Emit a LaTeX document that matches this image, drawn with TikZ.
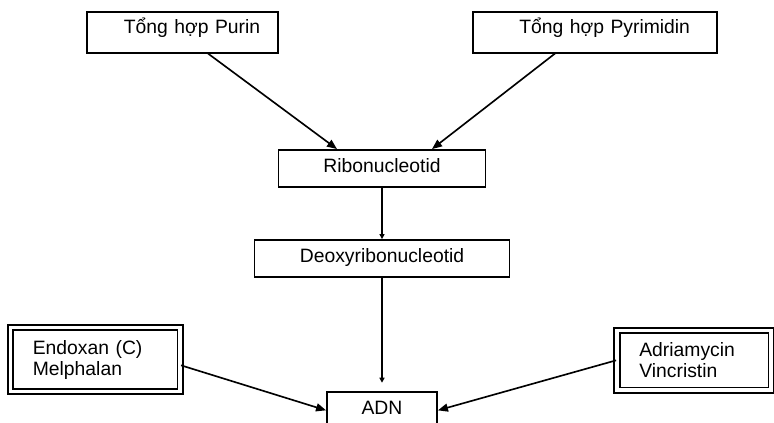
\documentclass[tikz,border=0pt]{standalone}
\usepackage{fontspec}
\setmainfont{Liberation Sans}
\usetikzlibrary{arrows.meta}

\begin{document}
\begin{tikzpicture}[font=\fontsize{16.5}{17.9}\selectfont,
  >={Triangle[length=0.3cm,width=0.24cm]},
  synth/.style={draw,line width=1.6pt,align=right,inner ysep=0pt,text height=0.63cm,text depth=0.585cm},
  nucl/.style={draw,line width=1.6pt,align=center,inner ysep=0pt,text height=0.66cm,text depth=0.44cm},
  drug/.style={draw,double,double distance=3pt,line width=1.5pt,align=left,inner xsep=0.67cm},
  link/.style={->,line width=1.4pt},
  tiny/.style={-{Triangle[length=0.15cm,width=0.15cm]},line width=1.4pt}]
  \useasboundingbox (0,0) rectangle (23.22,-12.66);
  \node[synth,text width=4.65cm,inner xsep=0.54cm] (purin) at (5.48,-0.97) {Tổng hợp Purin};
  \node[synth,text width=5.70cm,inner xsep=0.81cm] (pyrimidin) at (17.85,-0.97) {Tổng hợp Pyrimidin};
  \node[nucl,minimum width=6.21cm] (ribo) at (11.46,-5.05) {Ribonucleotid};
  \node[nucl,minimum width=7.65cm] (deoxy) at (11.46,-7.75) {Deoxyribonucleotid};
  \node[nucl,minimum width=3.3cm] (adn) at (11.46,-12.31) {ADN};
  \node[drug,text width=3.75cm,minimum height=1.92cm] (endoxan) at (2.86,-10.79) {Endoxan (C)\\Melphalan};
  \node[drug,text width=3.28cm,minimum height=1.79cm] (adriamycin) at (20.82,-10.81) {Adriamycin\\Vincristin};
  \draw[link] ([xshift=0.76cm]purin.south) -- ([xshift=-1.35cm]ribo.north);
  \draw[link] ([xshift=-1.2cm]pyrimidin.south) -- ([xshift=1.5cm]ribo.north);
  \draw[tiny] (ribo) -- (deoxy);
  \draw[tiny,shorten >=0.25cm] (deoxy) -- (adn);
  \draw[link] ([yshift=-0.17cm]endoxan.east) -- (adn.west);
  \draw[link] (adriamycin.west) -- (adn.east);
\end{tikzpicture}
\end{document}
